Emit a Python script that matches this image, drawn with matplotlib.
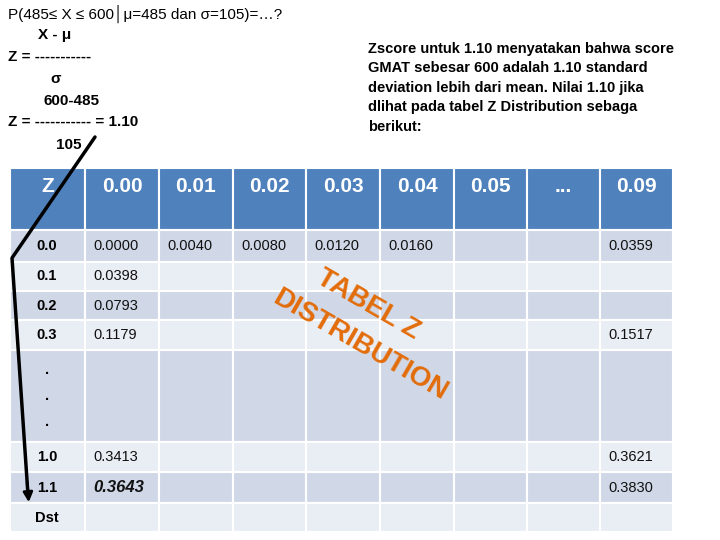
import matplotlib
matplotlib.use("Agg")
import matplotlib.pyplot as plt
from matplotlib.patches import Rectangle

FONT = ['Liberation Sans Narrow', 'Liberation Sans', 'DejaVu Sans']
plt.rcParams['font.family'] = FONT

headers = ['Z', '0.00', '0.01', '0.02', '0.03', '0.04', '0.05', '...', '0.09']
row_labels = ['0.0', '0.1', '0.2', '0.3', '.\n\n.\n\n.', '1.0', '1.1', 'Dst']
cells = [
    ['0.0000', '0.0040', '0.0080', '0.0120', '0.0160', '', '', '0.0359'],
    ['0.0398', '', '', '', '', '', '', ''],
    ['0.0793', '', '', '', '', '', '', ''],
    ['0.1179', '', '', '', '', '', '', '0.1517'],
    ['', '', '', '', '', '', '', ''],
    ['0.3413', '', '', '', '', '', '', '0.3621'],
    ['0.3643', '', '', '', '', '', '', '0.3830'],
    ['', '', '', '', '', '', '', ''],
]

col_edges = [10, 85, 159, 233, 306, 380, 454, 527, 600, 673]
row_edges = [168, 230, 262, 291, 320, 350, 442, 472, 503, 532]

fig = plt.figure(figsize=(7.2, 5.4), dpi=100)
ax = fig.add_axes([0, 0, 1, 1])
ax.set_xlim(0, 720)
ax.set_ylim(540, 0)
ax.axis('off')

for r in range(len(row_edges) - 1):
    y0, y1 = row_edges[r], row_edges[r + 1]
    if r == 0:
        fc = '#4F81BD'
    else:
        fc = '#D0D8E8' if r % 2 == 1 else '#E9EDF4'
    for c in range(len(col_edges) - 1):
        x0, x1 = col_edges[c], col_edges[c + 1]
        ax.add_patch(Rectangle((x0, y0), x1 - x0, y1 - y0, fc=fc, ec='white', lw=1.5))
        xc = (x0 + x1) / 2
        yc = (y0 + y1) / 2
        if r == 0:
            ax.text(xc, yc - 12, headers[c], color='white', fontsize=15, fontweight='bold',
                    ha='center', va='center')
        elif c == 0:
            ax.text(47, yc, row_labels[r - 1], fontsize=10.5, fontweight='bold',
                    ha='center', va='center', linespacing=0.9)
        else:
            v = cells[r - 1][c - 1]
            if v:
                bold = (r - 1 == 6 and c == 1)
                ax.text(x0 + 8, yc, v, fontsize=12 if bold else 10.5,
                        fontweight='bold' if bold else 'normal',
                        style='italic' if bold else 'normal',
                        color='#111111', ha='left', va='center')

# formula text
ax.text(8, 14, 'P(485≤ X ≤ 600│μ=485 dan σ=105)=…?', fontsize=11, va='center')
ax.text(38, 35, 'X - μ', fontsize=11, fontweight='bold', va='center')
ax.text(8, 57, 'Z = -----------', fontsize=11, fontweight='bold', va='center')
ax.text(50, 79, 'σ', fontsize=11, fontweight='bold', va='center')
ax.text(44, 101, '600-485', fontsize=11, fontweight='bold', va='center')
ax.text(8, 122, 'Z = ----------- = 1.10', fontsize=11, fontweight='bold', va='center')
ax.text(56, 145, '105', fontsize=11, fontweight='bold', va='center')

ax.text(368, 88, 'Zscore untuk 1.10 menyatakan bahwa score\nGMAT sebesar 600 adalah 1.10 standard\n'
        'deviation lebih dari mean. Nilai 1.10 jika\ndlihat pada tabel Z Distribution sebaga\nberikut:',
        fontsize=10.5, fontweight='bold', va='center', linespacing=1.5)

# arrow
ax.plot([95, 12, 28], [137, 258, 495], color='black', lw=2.5, solid_capstyle='round')
ax.annotate('', xy=(29, 505), xytext=(27, 480),
            arrowprops=dict(arrowstyle='-|>', color='black', lw=2, mutation_scale=14))

ax.text(368, 305, 'TABEL Z', fontsize=20, fontweight='bold', color='#E36C09',
        rotation=-30, ha='center', va='center')
ax.text(360, 345, 'DISTRIBUTION', fontsize=20, fontweight='bold', color='#E36C09',
        rotation=-30, ha='center', va='center')

fig.savefig('out.png', dpi=100)
